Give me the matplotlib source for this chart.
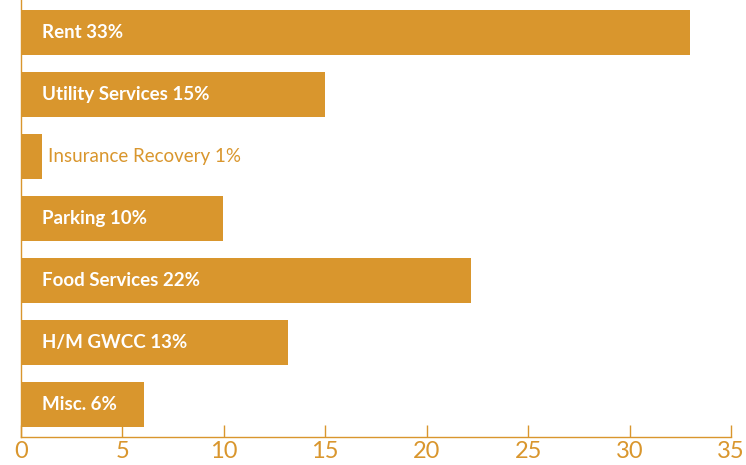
import matplotlib
matplotlib.use("Agg")
import matplotlib.pyplot as plt

categories = ['Rent', 'Utility Services', 'Insurance Recovery', 'Parking',
              'Food Services', 'H/M GWCC', 'Misc.']
values = [33.0, 15.0, 1.05, 9.95, 22.2, 13.15, 6.05]
pct_labels = ['33%', '15%', '1%', '10%', '22%', '13%', '6%']
x_ticks = [0, 5, 10, 15, 20, 25, 30, 35]

orange = '#D9962D'

fig = plt.figure(figsize=(7.46, 4.65), dpi=100)
ax = fig.add_axes([0.028, 0.06, 0.952, 0.94])

y = list(range(len(categories)))
ax.barh(y, values, height=0.72, color=orange)

for i, (cat, v, p) in enumerate(zip(categories, values, pct_labels)):
    if v < 3:
        # small bar: label sits outside in orange
        ax.text(v + 0.3, i, f"{cat} {p}", va='center', ha='left',
                color=orange, fontsize=13.5, family='Lato')
    else:
        ax.text(1.05, i, f"{cat} {p}", va='center', ha='left',
                color='white', fontsize=13.5, fontweight='bold', family='Lato')

ax.set_xlim(0, 35)
ax.set_ylim(len(categories) - 0.48, -0.52)
ax.set_xticks(x_ticks)
ax.set_xticklabels([str(t) for t in x_ticks], fontsize=17, color=orange, family='Lato')
ax.tick_params(axis='x', direction='in', length=9, width=1, color=orange, pad=3)
ax.set_yticks([])

for side in ['top', 'right']:
    ax.spines[side].set_visible(False)
for side in ['left', 'bottom']:
    ax.spines[side].set_color(orange)
    ax.spines[side].set_linewidth(1)

fig.savefig('out.png', dpi=100)
